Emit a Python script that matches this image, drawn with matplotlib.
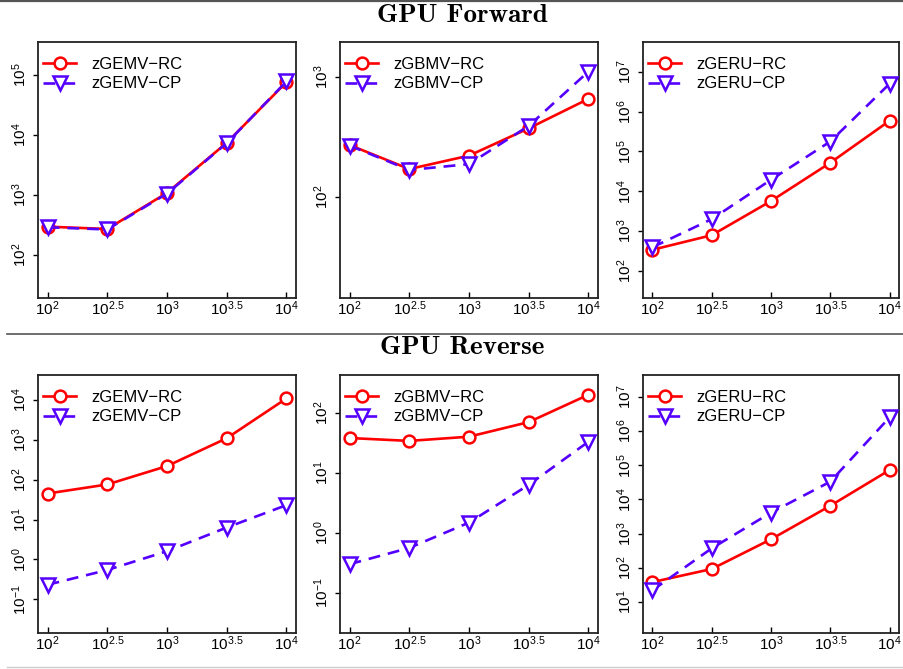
#!/usr/bin/env python3
import numpy as np
import matplotlib
matplotlib.use("Agg")
import matplotlib.pyplot as plt
from matplotlib.lines import Line2D
from matplotlib.ticker import FixedLocator, FuncFormatter

plt.rcParams['font.family'] = ['Liberation Sans', 'DejaVu Sans']
plt.rcParams['mathtext.fontset'] = 'custom'
plt.rcParams['mathtext.rm'] = 'Liberation Sans'
plt.rcParams['mathtext.it'] = 'Liberation Sans:italic'

# problem sizes
sizes = [10**2, 10**2.5, 10**3, 10**3.5, 10**4]
size_labels = [r'$\mathregular{10^{2}}$', r'$\mathregular{10^{2.5}}$', r'$\mathregular{10^{3}}$',
               r'$\mathregular{10^{3.5}}$', r'$\mathregular{10^{4}}$']

# GPU forward timings
fwd_gemv_rc = [295, 270, 1080, 7400, 76000]
fwd_gemv_cp = [288, 265, 1050, 7300, 78000]
fwd_gbmv_rc = [271, 171, 221, 373, 656]
fwd_gbmv_cp = [268, 168, 188, 391, 1107]
fwd_geru_rc = [340, 790, 5700, 52000, 590000]
fwd_geru_cp = [394, 2000, 19500, 178000, 5.0e6]

# GPU reverse timings
rev_gemv_rc = [45, 76, 220, 1100, 11000]
rev_gemv_cp = [0.23, 0.54, 1.6, 6.3, 23]
rev_gbmv_rc = [38, 34, 40, 70, 200]
rev_gbmv_cp = [0.30, 0.56, 1.48, 6.3, 33]
rev_geru_rc = [38, 92, 680, 6500, 72000]
rev_geru_cp = [22, 370, 4100, 33000, 2.5e6]

W, H = 904, 669
fig = plt.figure(figsize=(W / 100, H / 100), dpi=100)

RED = '#FF0000'
BLUE = '#5500FF'

cols = [(38, 296), (340, 598), (643, 899)]
rows = [(42, 298), (375, 633)]

panels = [
    # row, col, name, rc, cp, log10 ylim
    (0, 0, 'zGEMV', fwd_gemv_rc, fwd_gemv_cp, (1.28, 5.55)),
    (0, 1, 'zGBMV', fwd_gbmv_rc, fwd_gbmv_cp, (1.16, 3.29)),
    (0, 2, 'zGERU', fwd_geru_rc, fwd_geru_cp, (1.32, 7.75)),
    (1, 0, 'zGEMV', rev_gemv_rc, rev_gemv_cp, (-1.85, 4.63)),
    (1, 1, 'zGBMV', rev_gbmv_rc, rev_gbmv_cp, (-1.67, 2.63)),
    (1, 2, 'zGERU', rev_geru_rc, rev_geru_cp, (0.09, 7.64)),
]


def sup_fmt(v, pos):
    return r'$\mathregular{10^{%d}}$' % int(round(np.log10(v)))


for r, c, name, rc, cp, (ylo, yhi) in panels:
    x0, x1 = cols[c]
    y0, y1 = rows[r]
    ax = fig.add_axes([x0 / W, 1 - y1 / H, (x1 - x0) / W, (y1 - y0) / H])
    ax.set_xscale('log')
    ax.set_yscale('log')
    ax.plot(sizes, rc, color=RED, lw=1.9, marker='o', ms=8.5, mfc='white',
            mec=RED, mew=1.8, label=name + '\u2212RC', zorder=3)
    ax.plot(sizes, cp, color=BLUE, lw=1.9, ls=(0, (4.5, 3)), marker='v', ms=9.5,
            mfc='white', mec=BLUE, mew=1.8, label=name + '\u2212CP', zorder=4)
    ax.set_xlim(10**1.92, 10**4.08)
    ax.set_ylim(10**ylo, 10**yhi)

    ax.xaxis.set_major_locator(FixedLocator(sizes))
    ax.xaxis.set_minor_locator(FixedLocator([]))
    ax.set_xticklabels(size_labels)
    decades = [10.0**k for k in range(int(np.ceil(ylo)), int(np.floor(yhi)) + 1)]
    ax.yaxis.set_major_locator(FixedLocator(decades))
    ax.yaxis.set_minor_locator(FixedLocator([]))
    ax.yaxis.set_major_formatter(FuncFormatter(sup_fmt))
    ax.tick_params(axis='x', direction='in', length=4, width=1, pad=1, labelsize=11)
    ax.tick_params(axis='y', direction='out', length=3.5, width=1, pad=3, labelsize=11)
    for lab in ax.get_yticklabels():
        lab.set_rotation(90)
        lab.set_va('center')
    for sp in ax.spines.values():
        sp.set_linewidth(1.3)
        sp.set_color('#222222')

    ax.legend(loc='upper left', bbox_to_anchor=(0.0, 0.96), frameon=False,
              fontsize=12, handlelength=2.0, handletextpad=0.9,
              borderaxespad=0.1, labelspacing=0.25, borderpad=0.2)

# section titles and rules
fig.text(462 / W, 1 - 15 / H, 'GPU Forward', family='cmb10', fontsize=19.5,
         ha='center', va='center')
fig.text(462 / W, 1 - 348 / H, 'GPU Reverse', family='cmb10', fontsize=19.5,
         ha='center', va='center')
fig.add_artist(Line2D([0, 1], [1 - 1 / H, 1 - 1 / H], color='#555555', lw=1.6))
fig.add_artist(Line2D([7 / W, 1], [1 - 334 / H, 1 - 334 / H], color='#555555', lw=1.2))
fig.add_artist(Line2D([7 / W, 1], [1 - 667 / H, 1 - 667 / H], color='#cccccc', lw=1.0))

fig.savefig('out.png', dpi=100)
